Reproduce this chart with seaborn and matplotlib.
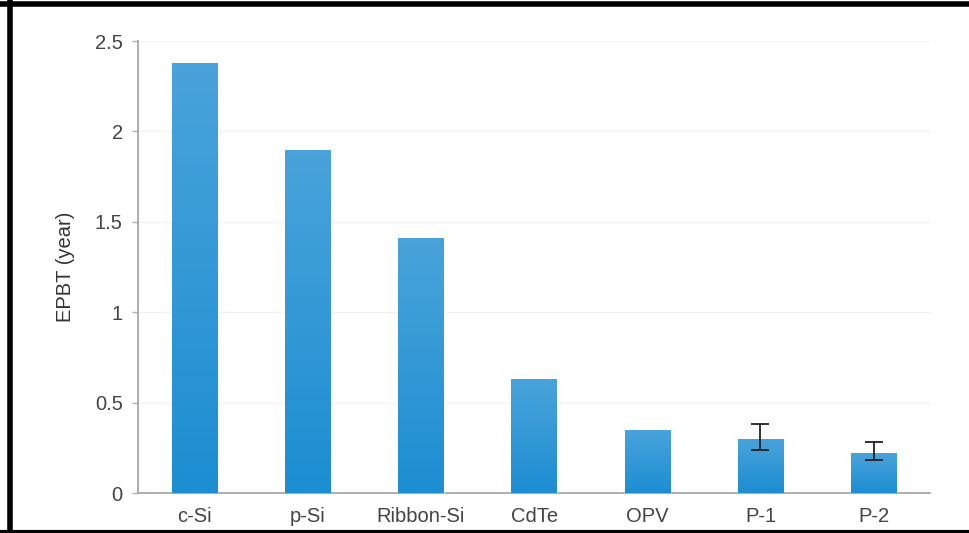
import matplotlib
matplotlib.use("Agg")
import matplotlib.pyplot as plt
import matplotlib.lines as mlines
from matplotlib.colors import LinearSegmentedColormap
import numpy as np
import pandas as pd
import seaborn as sns

# EPBT of PV technologies
technologies = ["c-Si", "p-Si", "Ribbon-Si", "CdTe", "OPV", "P-1", "P-2"]
epbt = [2.38, 1.90, 1.41, 0.63, 0.35, 0.30, 0.22]
err_low = [np.nan, np.nan, np.nan, np.nan, np.nan, 0.24, 0.18]
err_high = [np.nan, np.nan, np.nan, np.nan, np.nan, 0.38, 0.28]
y_ticks = [0, 0.5, 1, 1.5, 2, 2.5]
y_tick_labels = ["0", "0.5", "1", "1.5", "2", "2.5"]

df = pd.DataFrame({"tech": technologies, "epbt": epbt})

sns.set_theme(style="white")
plt.rcParams["font.family"] = ["Liberation Sans", "DejaVu Sans"]

fig = plt.figure(figsize=(9.69, 5.33), dpi=100)
ax = fig.add_axes([0.1424, 0.075, 0.8176, 0.848])

sns.barplot(data=df, x="tech", y="epbt", color="#2b93d3", width=0.4,
            saturation=1, ax=ax, zorder=3)

ax.set_xlim(-0.5, 6.5)
ax.set_ylim(0, 2.5)

# vertical shading inside each bar (lighter at the top)
shade = LinearSegmentedColormap.from_list("bar_shade", ["#1c8ed2", "#4aa3db"])
grad = np.linspace(0, 1, 256).reshape(-1, 1)
for patch in list(ax.patches):
    x0, y0 = patch.get_x(), patch.get_y()
    w, h = patch.get_width(), patch.get_height()
    im = ax.imshow(grad, cmap=shade, origin="lower", aspect="auto",
                   extent=[x0, x0 + w, y0, y0 + h], zorder=3.5)
    im.set_clip_path(patch)
ax.set_xlim(-0.5, 6.5)
ax.set_ylim(0, 2.5)
ax.set_aspect("auto")

# asymmetric error bars for P-1 and P-2
vals = np.array(epbt)
lo = np.array(err_low)
hi = np.array(err_high)
mask = ~np.isnan(lo)
xpos = np.arange(len(technologies))[mask]
ax.errorbar(xpos, vals[mask],
            yerr=[vals[mask] - lo[mask], hi[mask] - vals[mask]],
            fmt="none", ecolor="#222222", elinewidth=1.3, capsize=6.5,
            capthick=1.3, zorder=4)

ax.set_yticks(y_ticks)
ax.set_yticklabels(y_tick_labels)
ax.yaxis.grid(True, color="#f2f2f2", linewidth=1.0, zorder=0)
ax.set_axisbelow(True)

for side in ["top", "right"]:
    ax.spines[side].set_visible(False)
for side in ["left", "bottom"]:
    ax.spines[side].set_color("#a0a0a0")
    ax.spines[side].set_linewidth(1.2)

ax.tick_params(axis="y", which="both", left=True, length=4, width=1,
               color="#b0b0b0", labelsize=14.5, labelcolor="#444444", pad=7)
ax.tick_params(axis="x", bottom=False, labelsize=14.5, labelcolor="#444444", pad=4)

ax.set_xlabel("")
ax.set_ylabel("EPBT (year)", fontsize=14.5, color="#333333")
ax.yaxis.set_label_coords(-0.080, 0.5)

# outer frame on left, top and bottom
frame_kw = dict(color="black", linewidth=4, transform=fig.transFigure)
fig.add_artist(mlines.Line2D([0.0108, 0.0108], [0.0, 1.0], **frame_kw))
fig.add_artist(mlines.Line2D([0.0, 1.0], [0.992, 0.992], **frame_kw))
fig.add_artist(mlines.Line2D([0.0, 1.0], [0.0025, 0.0025], linewidth=3,
                             color="black", transform=fig.transFigure))

fig.savefig("out.png", dpi=100)
